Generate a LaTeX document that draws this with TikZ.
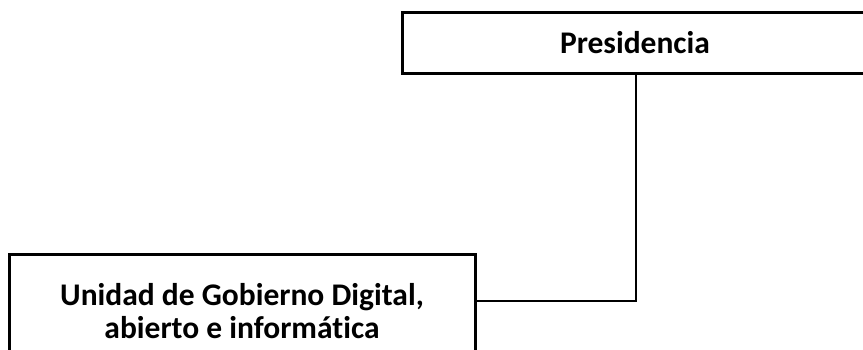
\documentclass[tikz,border=0pt]{standalone}
\usepackage{fontspec}
\setmainfont[Ligatures=NoCommon]{Carlito}
\begin{document}
\begin{tikzpicture}[x=1pt,y=1pt,
  box/.style={draw=black,line width=3pt,fill=white,align=center,inner sep=0pt,font=\bfseries\fontsize{31.5}{33}\selectfont},
  conn/.style={draw=black,line width=2pt}]
\useasboundingbox (0,0) rectangle (863,-349);
\node[box,minimum width=466pt,minimum height=61pt] (pres) at (635,-42.5) {Presidencia};
\node[box,minimum width=466pt,minimum height=114pt] (unid) at (242,-311) {Unidad de Gobierno Digital,\\abierto e informática};
\coordinate (j) at (636,-301);
\draw[conn] (j |- pres.south) -- (j) -- (unid.east |- j);
\end{tikzpicture}
\end{document}
